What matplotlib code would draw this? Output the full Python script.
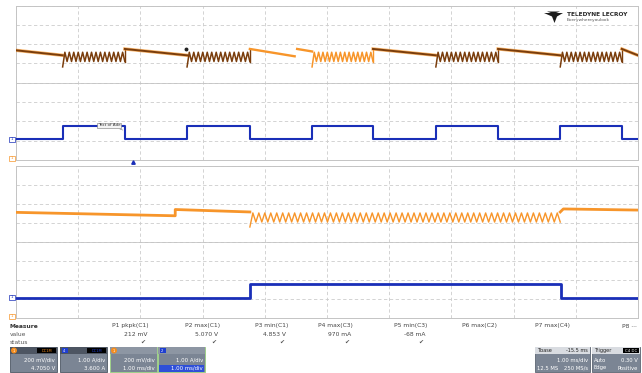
import numpy as np
import matplotlib.pyplot as plt
from matplotlib.patches import Rectangle, Circle, Polygon

# ---- data read from the screen (time in divisions, level in divisions) ----
# upper panel: C4 square wave (blue) and C1 output voltage (brown / orange)
up_edges = [0.75, 1.75, 2.75, 3.76, 4.76, 5.74, 6.75, 7.75, 8.75, 9.74]
up_blue_low = 1.09
up_blue_high = 1.76
up_smooth_start = 5.75      # level right after the load is released
up_smooth_end = 5.42        # level just before the next load step
up_first_level = 5.68       # level at left edge of screen
up_ripple_top = 5.58
up_ripple_bot = 5.10
up_ripple_dip = 4.82
up_ripple_teeth = 14
zoom_window = [3.76, 5.74]  # part of C1 shown in orange (zoom source)
up_step_time = 4.50         # small step inside the zoom window
up_step_levels = [5.75, 5.62]

# lower panel: zoom traces Z1 (orange) and Z2 (blue)
lo_t = [0.0, 2.56, 2.56, 3.76]
lo_levels = [5.56, 5.38, 5.71, 5.58]
lo_ripple = [3.76, 8.75]
lo_ripple_top = 5.53
lo_ripple_bot = 5.05
lo_ripple_dip = 4.79
lo_ripple_teeth = 52
lo_tail_t = [8.75, 8.80, 10.0]
lo_tail_levels = [5.58, 5.74, 5.68]
lo_blue_edges = [3.76, 8.76]
lo_blue_low = 1.05
lo_blue_high = 1.77

# measurement table
meas_names = ['P1 pkpk(C1)', 'P2 max(C1)', 'P3 min(C1)', 'P4 max(C3)',
              'P5 min(C3)', 'P6 max(C2)', 'P7 max(C4)', 'P8 \u00b7\u00b7\u00b7']
meas_values = ['212 mV', '5.070 V', '4.853 V', '970 mA', '-68 mA', '', '', '']
meas_ok = [True, True, True, True, True, False, False, False]
meas_right = [149, 220, 288, 353, 427, 497, 570, 637]

# channel descriptor boxes
ch_labels = ['C1', 'C4', 'Z1', 'Z2']
ch_colors = ['#f28c1e', '#1f3fd0', '#f28c1e', '#1f3fd0']
ch_row1 = ['200 mV/div', '1.00 A/div', '200 mV/div', '1.00 A/div']
ch_row2 = ['4.7050 V', '3.600 A', '1.00 ms/div', '1.00 ms/div']
ch_left = [10, 60, 110, 158]

BROWN = '#7a3d0c'
ORANGE = '#f7952a'
BLUE = '#1a2fb8'
GRID = '#cccccc'


def square(edges, low, high, start_low=True):
    t = [0.0]
    v = [low if start_low else high]
    state = start_low
    for e in edges:
        t += [e, e]
        v += [low if state else high, high if state else low]
        state = not state
    t.append(10.0)
    v.append(v[-1])
    return np.array(t), np.array(v)


def ripple(a, b, top, bot, dip, teeth):
    t = np.linspace(a, b, 2 * teeth + 1)
    v = np.where(np.arange(t.size) % 2 == 0, bot, top).astype(float)
    v[0] = dip
    return t, v


def scope_axes(rect):
    ax = fig.add_axes(rect)
    ax.set_facecolor('none')
    ax.set_xlim(0, 10)
    ax.set_ylim(0, 8)
    ax.set_xticks(range(11))
    ax.set_yticks(range(9))
    ax.tick_params(length=0, labelleft=False, labelbottom=False)
    ax.grid(True, color=GRID, linestyle=(0, (4, 3)), linewidth=0.6)
    ax.axhline(4, color='#c4c4c4', linewidth=0.6)
    for s in ax.spines.values():
        s.set_color('#c4c4c4')
        s.set_linewidth(0.7)
    return ax


fig = plt.figure(figsize=(6.42, 3.73), dpi=100)
fig.patch.set_facecolor('white')

ui = fig.add_axes([0, 0, 1, 1])
ui.set_xlim(0, 642)
ui.set_ylim(373, 0)
ui.axis('off')

ax_top = scope_axes([16 / 642, 1 - 160 / 373, 622 / 642, 154.5 / 373])
ax_bot = scope_axes([16 / 642, 1 - 318 / 373, 622 / 642, 152 / 373])

# ---- upper panel ----
tb, vb = square(up_edges, up_blue_low, up_blue_high)
ax_top.plot(tb, vb, color=BLUE, linewidth=1.5, zorder=3)

bounds = [0.0] + up_edges + [10.0]
for i in range(len(bounds) - 1):
    a, b = bounds[i], bounds[i + 1]
    in_zoom = zoom_window[0] - 0.01 <= a < zoom_window[1] - 0.01
    col = ORANGE if in_zoom else BROWN
    if i % 2 == 0:
        # blue low: output slowly droops
        start = up_first_level if i == 0 else up_smooth_start
        if in_zoom and a < up_step_time < b:
            ax_top.plot([a, up_step_time - 0.02], [start, up_smooth_end - 0.05],
                        color=col, linewidth=1.7, zorder=4)
            ax_top.plot([up_step_time + 0.02, b], up_step_levels,
                        color=col, linewidth=1.7, zorder=4)
        else:
            ax_top.plot([a, b], [start, up_smooth_end], color=ORANGE,
                        linewidth=2.4, zorder=4, alpha=0.7)
            ax_top.plot([a, b], [start, up_smooth_end], color=col,
                        linewidth=1.4, zorder=5)
    else:
        # blue high: regulator ripple
        t, v = ripple(a, b, up_ripple_top, up_ripple_bot, up_ripple_dip,
                      up_ripple_teeth)
        ax_top.plot(t, v, color=col, linewidth=1.1, zorder=4)
        ax_top.plot([b, b], [v[-1], up_smooth_start], color=col,
                    linewidth=1.0, zorder=4)

# trigger time marker and label
ax_top.plot([1.88], [-0.12], marker='^', color=BLUE, markersize=2.5,
            clip_on=False, zorder=6)
ax_top.plot([2.73], [up_smooth_start], marker='o', color='#222222',
            markersize=1.8, zorder=6)
ax_top.annotate('Text of Ade', xy=(1.76, 1.5), xytext=(1.5, 1.8),
                fontsize=3, color='#333333', ha='center', va='center',
                bbox=dict(boxstyle='square,pad=0.15', fc='#f4f4f4',
                          ec='#777777', lw=0.4),
                arrowprops=dict(arrowstyle='-', color='#777777', lw=0.4),
                zorder=7)

# ---- lower panel ----
ax_bot.plot(lo_t, lo_levels, color=ORANGE, linewidth=2.0, zorder=4)
tr, vr = ripple(lo_ripple[0], lo_ripple[1], lo_ripple_top, lo_ripple_bot,
                lo_ripple_dip, lo_ripple_teeth)
ax_bot.plot(tr, vr, color=ORANGE, linewidth=1.0, zorder=4)
ax_bot.plot(lo_tail_t, lo_tail_levels, color=ORANGE, linewidth=2.0, zorder=4)
tb2, vb2 = square(lo_blue_edges, lo_blue_low, lo_blue_high)
ax_bot.plot(tb2, vb2, color=BLUE, linewidth=2.0, zorder=3)

# ---- ground markers at the left ----
for y, c in [(139, BLUE), (158, ORANGE), (297, BLUE), (316, ORANGE)]:
    ui.add_patch(Rectangle((9, y - 2.5), 6, 5, fc='white', ec=c, lw=0.5))
    ui.text(12, y, '1', fontsize=2.8, color=c, ha='center', va='center')

# ---- logo ----
ui.add_patch(Polygon([(544, 13), (563, 13), (557, 16.5), (554.5, 23),
                      (552, 16.5)], closed=True, fc='#1c1c1c', ec='none'))
ui.add_patch(Polygon([(547, 11.5), (560, 11.5), (553.5, 14)], closed=True,
                     fc='#1c1c1c', ec='none'))
ui.text(567, 14, 'TELEDYNE LECROY', fontsize=4.2, fontweight='bold',
        color='#2a2a2a', va='center')
ui.text(567, 20, 'Everywhereyoulook', fontsize=3.2, color='#555555',
        va='center')

# ---- measurement table ----
ui.text(10, 326, 'Measure', fontsize=4.3, fontweight='bold', color='#333333',
        va='center')
ui.text(10, 334, 'value', fontsize=4.3, color='#555555', va='center')
ui.text(10, 342, 'status', fontsize=4.3, color='#555555', va='center')
for name, val, ok, xr in zip(meas_names, meas_values, meas_ok, meas_right):
    ui.text(xr, 326, name, fontsize=4.3, color='#444444', ha='right',
            va='center')
    if val:
        ui.text(xr - 2, 334, val, fontsize=4.3, color='#444444', ha='right',
                va='center')
    if ok:
        ui.text(xr - 4, 342, '\u2714', fontsize=4.3, color='#555555',
                ha='right', va='center')

# ---- channel descriptor boxes ----
for lab, col, r1, r2, x0 in zip(ch_labels, ch_colors, ch_row1, ch_row2,
                                ch_left):
    w = 47
    zoom_box = lab.startswith('Z')
    ui.add_patch(Rectangle((x0, 347), w, 25, fc='#7b8594',
                           ec='#9fd08a' if zoom_box else '#5d6672', lw=0.7))
    ui.add_patch(Rectangle((x0, 347), w, 7,
                           fc='#8d96a3' if zoom_box else '#4d5562', ec='none'))
    if col == '#f28c1e':
        ui.add_patch(Circle((x0 + 4, 350.5), 3, fc=col, ec='none'))
    else:
        ui.add_patch(Rectangle((x0 + 1.5, 348), 6, 5, fc=col, ec='none'))
    ui.text(x0 + 4, 350.7, lab[1], fontsize=2.6, color='white',
            ha='center', va='center')
    if not zoom_box:
        ui.add_patch(Rectangle((x0 + w - 20, 348), 19, 5, fc='black',
                               ec='none'))
        ui.text(x0 + w - 10.5, 350.7, 'DC1M', fontsize=2.6, color=col,
                ha='center', va='center')
    if lab == 'Z2':
        ui.add_patch(Rectangle((x0 + 1, 364.5), w - 2, 7, fc='#2f4fd8',
                               ec='none'))
    ui.text(x0 + w - 2, 360, r1, fontsize=3.9, color='white', ha='right',
            va='center')
    ui.text(x0 + w - 2, 368, r2, fontsize=3.9, color='white', ha='right',
            va='center')

# ---- timebase / trigger boxes ----
for x0, w, head, hv, r1a, r1b, r2a, r2b in [
        (535, 55, 'Tbase', '-15.5 ms', '', '1.00 ms/div', '12.5 MS',
         '250 MS/s'),
        (592, 48, 'Trigger', 'C4 DC', 'Auto', '0.30 V', 'Edge',
         'Positive')]:
    ui.add_patch(Rectangle((x0, 347), w, 25, fc='#7b8594', ec='#5d6672',
                           lw=0.6))
    ui.add_patch(Rectangle((x0, 347), w, 7, fc='#d9dce1', ec='none'))
    ui.text(x0 + 2, 350.7, head, fontsize=3.6, color='#222222', va='center')
    if head == 'Trigger':
        ui.add_patch(Rectangle((x0 + w - 17, 348), 16, 5, fc='black',
                               ec='none'))
        ui.text(x0 + w - 9, 350.7, hv, fontsize=2.8, color='white',
                ha='center', va='center')
    else:
        ui.text(x0 + w - 2, 350.7, hv, fontsize=3.6, color='#222222',
                ha='right', va='center')
    ui.text(x0 + 2, 360, r1a, fontsize=3.8, color='white', va='center')
    ui.text(x0 + w - 2, 360, r1b, fontsize=3.8, color='white', ha='right',
            va='center')
    ui.text(x0 + 2, 368, r2a, fontsize=3.8, color='white', va='center')
    ui.text(x0 + w - 2, 368, r2b, fontsize=3.8, color='white', ha='right',
            va='center')

fig.savefig('out.png', dpi=100)
